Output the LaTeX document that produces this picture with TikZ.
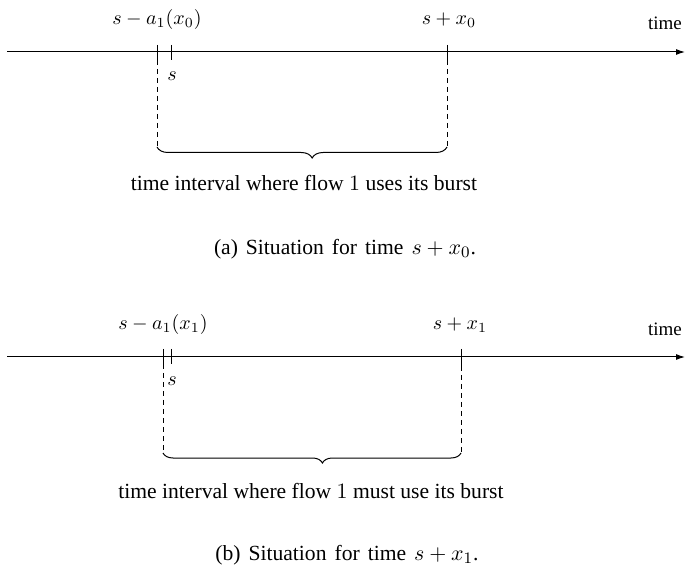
\documentclass[tikz,border=0pt]{standalone}
\usepackage[no-math]{fontspec}
\setmainfont{Liberation Serif}
\usetikzlibrary{arrows.meta,decorations.pathreplacing}
\newcommand\widesp{\spaceskip=4pt\relax}
\begin{document}
\begin{tikzpicture}[x=0.5pt,y=-0.5pt,
  axis/.style={line width=0.5pt,-{Latex[length=4.5pt,width=3pt]}},
  tick/.style={line width=0.5pt},
  guide/.style={line width=0.5pt,dash pattern=on 2.5pt off 2pt},
  bracestyle/.style={line width=0.5pt,decorate},
  lbl/.style={inner sep=0pt,font=\fontsize{10}{12}\selectfont},
  small/.style={inner sep=0pt,font=\fontsize{9.5}{11}\selectfont},
  txt/.style={inner sep=0pt,font=\fontsize{10.8}{13}\selectfont}]
\useasboundingbox (0,0) rectangle (685,566);
% ---------- (a) ----------
\coordinate (a0) at (7,52);
\coordinate (a1) at (685,52);
\draw[axis] (a0) -- (a1);
\node[small] (atime) at (665,23) {time};
\coordinate (aL) at (157,45); \coordinate (aLb) at (157,60);
\coordinate (aS) at (171,45); \coordinate (aSb) at (171,60);
\coordinate (aR) at (447,45); \coordinate (aRb) at (447,60);
\draw[tick] (aL) -- (aLb);
\draw[tick] (aS) -- (aSb);
\draw[tick] (aR) -- (aRb);
\coordinate (aLd) at (157,147); \coordinate (aRd) at (447,147);
\draw[guide] (aLb) -- (aLd);
\draw[guide] (aRb) -- (aRd);
\draw[bracestyle,decoration={brace,mirror,amplitude=5.5pt,aspect=0.535}] (aLd) -- (aRd);
\node[lbl] (alab1) at (157,20) {$s-a_1(x_0)$};
\node[lbl] (alab2) at (449,20) {$s+x_0$};
\node[lbl] (as) at (172,76) {$s$};
\node[txt] (atext) at (304,183) {time interval where flow $1$ uses its burst};
\node[txt] (acap) at (345,249) {\widesp(a) Situation for time $s+x_0$.};
% ---------- (b) ----------
\coordinate (b0) at (7,357);
\coordinate (b1) at (685,357);
\draw[axis] (b0) -- (b1);
\node[small] (btime) at (665,329) {time};
\coordinate (bL) at (163,349); \coordinate (bLb) at (163,364);
\coordinate (bS) at (171,349); \coordinate (bSb) at (171,364);
\coordinate (bR) at (461,349); \coordinate (bRb) at (461,366);
\draw[tick] (bL) -- (bLb);
\draw[tick] (bS) -- (bSb);
\draw[tick] (bR) -- (bRb);
\coordinate (bLd) at (163,453); \coordinate (bRd) at (461,453);
\draw[guide] (bLb) -- (bLd);
\draw[guide] (bRb) -- (bRd);
\draw[bracestyle,decoration={brace,mirror,amplitude=5pt,aspect=0.535}] (bLd) -- (bRd);
\node[lbl] (blab1) at (163,325) {$s-a_1(x_1)$};
\node[lbl] (blab2) at (460,325) {$s+x_1$};
\node[lbl] (bs) at (172,381) {$s$};
\node[txt] (btext) at (311,491) {time interval where flow $1$ must use its burst};
\node[txt] (bcap) at (347,555) {\widesp(b) Situation for time $s+x_1$.};
\end{tikzpicture}
\end{document}
